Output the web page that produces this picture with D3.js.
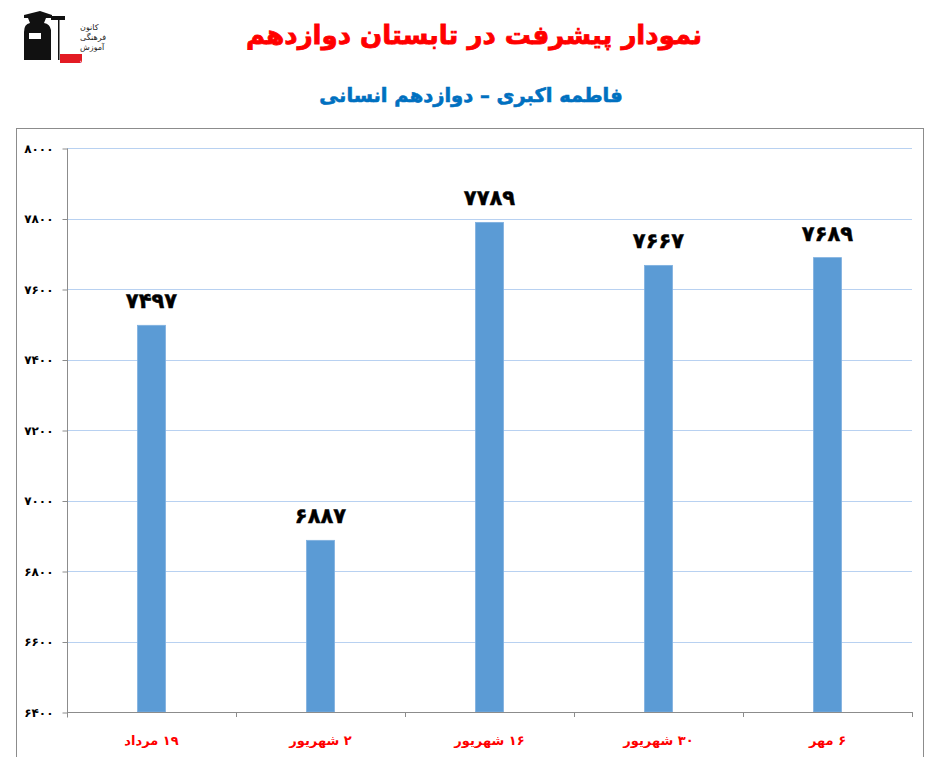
<!DOCTYPE html>
<html><head><meta charset="utf-8">
<script src="https://cdn.jsdelivr.net/npm/d3@7/dist/d3.min.js"></script>
<style>
html,body{margin:0;padding:0;background:#fff;}
svg text{font-family:"DejaVu Sans",sans-serif;}
</style></head>
<body>
<svg id="c" width="930" height="757"></svg>
<script>
const categories = ["۱۹ مرداد", "۲ شهریور", "۱۶ شهریور", "۳۰ شهریور", "۶ مهر"];
const values = [7497, 6887, 7789, 7667, 7689];
const yTicks = [6400, 6600, 6800, 7000, 7200, 7400, 7600, 7800, 8000];
const title = "نمودار پیشرفت در تابستان دوازدهم";
const subtitle = "فاطمه اکبری – دوازدهم انسانی";

const fa = n => String(n).replace(/\d/g, d => "۰۱۲۳۴۵۶۷۸۹"[+d]);

const svg = d3.select("#c");
const L = 67, R = 912, T = 148, B = 712;

// outer border
svg.append("rect").attr("x", 16.5).attr("y", 128.5).attr("width", 907).attr("height", 660)
  .attr("fill", "none").attr("stroke", "#8c8c8c").attr("stroke-width", 1);

// titles
svg.append("text").attr("x", 474).attr("y", 44).attr("text-anchor", "middle")
  .attr("direction", "rtl").attr("font-size", 26).attr("font-weight", "bold")
  .attr("fill", "#ff0000").attr("stroke", "#ff0000").attr("stroke-width", 0.8).text(title);
svg.append("text").attr("x", 471).attr("y", 102).attr("text-anchor", "middle")
  .attr("direction", "rtl").attr("font-size", 19.5).attr("font-weight", "bold")
  .attr("fill", "#0070c0").attr("stroke", "#0070c0").attr("stroke-width", 0.6).text(subtitle);

// logo
const lg = svg.append("g").attr("transform", "translate(18,4)");
lg.append("path").attr("d", "M6,56 L6,28 Q6,20 12,19 L10,14 L6,14 L6,11 L22,7 L34,11 L34,14 L28,14 L26,19 Q32,20 33,26 L33,56 Z").attr("fill", "#111");
lg.append("rect").attr("x", 33).attr("y", 12).attr("width", 14).attr("height", 4).attr("fill", "#111");
lg.append("rect").attr("x", 11).attr("y", 29).attr("width", 12).attr("height", 6).attr("fill", "#fff");
lg.append("rect").attr("x", 40).attr("y", 14).attr("width", 1.5).attr("height", 42).attr("fill", "#111");
["کانون", "فرهنگی", "آموزش"].forEach((t, i) => {
  lg.append("text").attr("x", 62).attr("y", 26 + i * 10).attr("text-anchor", "end")
    .attr("direction", "rtl").attr("font-size", 8).attr("fill", "#222").text(t);
});
lg.append("rect").attr("x", 42).attr("y", 50).attr("width", 22).attr("height", 9).attr("fill", "#e31b23");
lg.append("text").attr("x", 62).attr("y", 57.5).attr("text-anchor", "end")
  .attr("direction", "rtl").attr("font-size", 7).attr("fill", "#fff").text("قلم‌چی");

// scales
const x = d3.scaleBand().domain(categories).range([L, R]).paddingInner(0).paddingOuter(0);
const y = d3.scaleLinear().domain([6400, 8000]).range([B, T]);

// gridlines
svg.append("g").selectAll("line").data(yTicks.slice(1)).join("line")
  .attr("x1", L).attr("x2", R).attr("y1", d => Math.round(y(d)) + 0.5).attr("y2", d => Math.round(y(d)) + 0.5)
  .attr("stroke", "#b8d1f1").attr("stroke-width", 1);

// y axis
const ya = svg.append("g").attr("transform", `translate(${L + 0.5},0.5)`)
  .call(d3.axisLeft(y).tickValues(yTicks).tickSize(5).tickPadding(9).tickFormat(fa));
ya.select(".domain").attr("stroke", "#8c8c8c").attr("d", `M0,${T} V${B + 5}`);
ya.selectAll(".tick line").attr("stroke", "#8c8c8c");
ya.selectAll(".tick text").attr("font-size", 12).attr("font-weight", "bold").attr("fill", "#000")
  .attr("font-family", "DejaVu Sans");

// bars
const bw = 28;
svg.append("g").selectAll("rect").data(values).join("rect")
  .attr("x", (d, i) => x(categories[i]) + x.bandwidth() / 2 - bw / 2)
  .attr("y", d => y(d)).attr("width", bw).attr("height", d => B - y(d))
  .attr("fill", "#5b9bd5").attr("stroke", "#7fb0df").attr("stroke-width", 0.8);

// value labels
svg.append("g").selectAll("text").data(values).join("text")
  .attr("x", (d, i) => x(categories[i]) + x.bandwidth() / 2)
  .attr("y", d => y(d) - 17).attr("text-anchor", "middle")
  .attr("font-size", 21).attr("font-weight", "bold").attr("fill", "#000")
  .attr("stroke", "#000").attr("stroke-width", 0.5)
  .text(d => fa(d));

// x axis
const xa = svg.append("g").attr("transform", `translate(0,${B + 0.5})`)
  .call(d3.axisBottom(x).tickSize(0).tickFormat(""));
xa.select(".domain").attr("stroke", "#8c8c8c").attr("d", `M${L},0 H${R}`);
svg.append("g").selectAll("line").data(d3.range(categories.length + 1)).join("line")
  .attr("x1", i => Math.round(L + i * x.bandwidth()) + 0.5).attr("x2", i => Math.round(L + i * x.bandwidth()) + 0.5)
  .attr("y1", B).attr("y2", B + 5).attr("stroke", "#8c8c8c");

svg.append("g").selectAll("text").data(categories).join("text")
  .attr("x", d => x(d) + x.bandwidth() / 2).attr("y", 745)
  .attr("text-anchor", "middle").attr("direction", "rtl")
  .attr("font-size", 13).attr("font-weight", "bold").attr("fill", "#ff0000")
  .text(d => d);
</script>
</body></html>
